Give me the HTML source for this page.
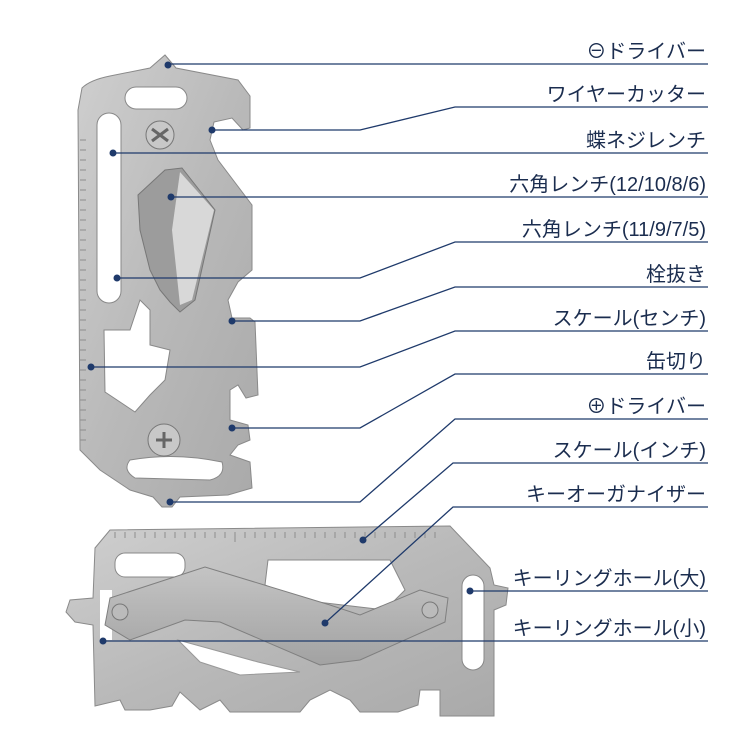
<!DOCTYPE html>
<html><head><meta charset="utf-8"><style>
html,body{margin:0;padding:0;background:#fff;}
svg{display:block}
text{font-family:"Liberation Sans","Noto Sans CJK JP",sans-serif;fill:#1b2d4f;font-size:20px}
</style></head><body>
<svg width="750" height="750" viewBox="0 0 750 750" xmlns="http://www.w3.org/2000/svg">
<defs>
<linearGradient id="m" x1="0" y1="0" x2="1" y2="1">
<stop offset="0" stop-color="#cfcfcf"/><stop offset="0.5" stop-color="#b9b9b9"/><stop offset="1" stop-color="#a9a9a9"/>
</linearGradient>
<linearGradient id="a" x1="0" y1="0" x2="0" y2="1">
<stop offset="0" stop-color="#c4c4c4"/><stop offset="1" stop-color="#a2a2a2"/>
</linearGradient>
</defs>

<!-- Top tool -->
<path d="M165,55 L176,68 L238,80 L250,96 L250,128 L243,130 L232,118 L214,122 L210,140 L218,160 L252,205 L252,270 L238,282 L228,300 L232,318 L250,318 L255,322 L258,395 L246,398 L238,385 L230,390 L230,420 L248,425 L250,440 L238,445 L230,455 L250,462 L252,488 L228,495 L180,497 L172,507 L162,507 L153,497 L130,490 L100,470 L80,450 L78,110 L82,88 Q90,80 110,76 L150,68 Z" fill="url(#m)" stroke="#8a8a8a" stroke-width="1"/>
<!-- ruler ticks left -->
<g stroke="#8d8d8d" stroke-width="1">
<line x1="80" y1="140" x2="86" y2="140"/><line x1="80" y1="150" x2="86" y2="150"/><line x1="80" y1="160" x2="86" y2="160"/><line x1="80" y1="170" x2="86" y2="170"/><line x1="80" y1="180" x2="86" y2="180"/><line x1="80" y1="190" x2="86" y2="190"/><line x1="80" y1="200" x2="86" y2="200"/><line x1="80" y1="210" x2="86" y2="210"/><line x1="80" y1="220" x2="86" y2="220"/><line x1="80" y1="230" x2="86" y2="230"/><line x1="80" y1="240" x2="86" y2="240"/><line x1="80" y1="250" x2="86" y2="250"/><line x1="80" y1="260" x2="86" y2="260"/><line x1="80" y1="270" x2="86" y2="270"/><line x1="80" y1="280" x2="86" y2="280"/><line x1="80" y1="290" x2="86" y2="290"/><line x1="80" y1="300" x2="86" y2="300"/><line x1="80" y1="310" x2="86" y2="310"/><line x1="80" y1="320" x2="86" y2="320"/><line x1="80" y1="330" x2="86" y2="330"/><line x1="80" y1="340" x2="86" y2="340"/><line x1="80" y1="350" x2="86" y2="350"/><line x1="80" y1="360" x2="86" y2="360"/><line x1="80" y1="370" x2="86" y2="370"/><line x1="80" y1="380" x2="86" y2="380"/><line x1="80" y1="390" x2="86" y2="390"/><line x1="80" y1="400" x2="86" y2="400"/><line x1="80" y1="410" x2="86" y2="410"/><line x1="80" y1="420" x2="86" y2="420"/><line x1="80" y1="430" x2="86" y2="430"/><line x1="80" y1="440" x2="86" y2="440"/>
</g>
<!-- holes -->
<rect x="125" y="87" width="62" height="22" rx="11" fill="#fff" stroke="#888"/>
<rect x="97" y="113" width="24" height="190" rx="12" fill="#fff" stroke="#888"/>
<path d="M165,170 L182,168 L215,210 L195,300 L180,312 L170,302 L160,290 L150,270 L140,230 L138,195 Z" fill="#9c9c9c" stroke="#777"/>
<path d="M180,172 L214,210 L192,300 L180,305 L172,230 Z" fill="#d8d8d8"/>
<path d="M104,330 L130,330 L140,300 L150,310 L150,345 L170,350 L165,380 L150,395 L135,412 L105,392 Z" fill="#fff" stroke="#888"/>
<path d="M130,460 Q175,452 222,462 Q226,476 210,480 L135,478 Q122,470 130,460 Z" fill="#fff" stroke="#888"/>
<circle cx="160" cy="135" r="14" fill="#c8c8c8" stroke="#777"/>
<path d="M152,129 L168,141 M168,129 L152,141" stroke="#666" stroke-width="3"/>
<circle cx="164" cy="440" r="16" fill="#c8c8c8" stroke="#777"/>
<path d="M156,440 L172,440 M164,432 L164,448" stroke="#666" stroke-width="3"/>

<!-- Bottom tool -->
<path d="M110,530 L450,526 L490,568 L494,585 L508,588 L506,605 L494,610 L494,716 L440,716 L440,690 L420,690 L418,705 L398,712 L360,712 L350,700 L330,690 L310,700 L300,712 L230,712 L220,700 L200,710 L180,692 L172,706 L150,710 L125,710 L120,700 L95,706 L93,625 L75,622 L66,612 L70,600 L93,598 L95,548 Z" fill="url(#m)" stroke="#8a8a8a"/>
<g stroke="#8d8d8d" stroke-width="1">
<path d="M115,532 v6 M125,532 v6 M135,532 v6 M145,532 v6 M155,532 v6 M165,532 v6 M175,532 v6 M185,532 v6 M195,532 v6 M205,532 v6 M215,532 v6 M225,532 v6 M235,532 v10 M245,532 v6 M255,532 v6 M265,532 v6 M275,532 v6 M285,532 v6 M295,532 v6 M305,532 v6 M315,532 v6 M325,532 v6 M335,532 v6 M345,532 v6 M355,532 v6 M365,532 v10 M375,532 v6 M385,532 v6 M395,532 v6 M405,532 v6 M415,532 v6 M425,532 v6 M435,532 v6"/>
</g>
<rect x="115" y="553" width="70" height="24" rx="10" fill="#fff" stroke="#888"/>
<path d="M268,560 L390,560 L405,590 L385,610 L300,600 L265,585 Z" fill="#fff" stroke="#888"/>
<rect x="462" y="575" width="22" height="95" rx="11" fill="#fff" stroke="#888"/>
<path d="M100,590 L112,590 L112,640 L100,640 Z" fill="#fff"/>
<path d="M178,640 L258,662 L300,672 L240,675 L200,662 Z" fill="#fff" stroke="#999"/>
<!-- key organizer arm -->
<path d="M110,598 L205,567 L330,605 L360,615 L420,590 L448,598 L445,622 L360,660 L320,665 L220,622 L185,620 L130,640 L105,625 Z" fill="url(#a)" stroke="#7f7f7f"/>
<circle cx="120" cy="612" r="8" fill="#bbb" stroke="#777"/>
<circle cx="430" cy="610" r="8" fill="#bbb" stroke="#777"/>

<!-- leader lines -->
<g stroke="#1f3a6b" stroke-width="1.3" fill="none">
<polyline points="168,64 708,64"/>
<polyline points="212,130 360,130 455,107 708,107"/>
<polyline points="113,153 708,153"/>
<polyline points="171,197 708,197"/>
<polyline points="117,278 360,278 455,242 708,242"/>
<polyline points="232,321 360,321 455,287 708,287"/>
<polyline points="91,367 360,367 455,331 708,331"/>
<polyline points="232,428 360,428 455,374 708,374"/>
<polyline points="170,502 360,502 455,419 708,419"/>
<polyline points="363,540 453,463 708,463"/>
<polyline points="325,623 453,507 708,507"/>
<polyline points="470,591 708,591"/>
<polyline points="103,641 708,641"/>
</g>
<g fill="#1f3a6b">
<circle cx="168" cy="65" r="3.5"/><circle cx="212" cy="130" r="3.5"/><circle cx="113" cy="153" r="3.5"/>
<circle cx="171" cy="197" r="3.5"/><circle cx="117" cy="278" r="3.5"/><circle cx="232" cy="321" r="3.5"/>
<circle cx="91" cy="367" r="3.5"/><circle cx="232" cy="428" r="3.5"/><circle cx="170" cy="502" r="3.5"/>
<circle cx="363" cy="540" r="3.5"/><circle cx="325" cy="623" r="3.5"/><circle cx="470" cy="591" r="3.5"/>
<circle cx="103" cy="641" r="3.5"/>
</g>

<g text-anchor="end">
<text x="706" y="58">⊖ドライバー</text>
<text x="706" y="101">ワイヤーカッター</text>
<text x="706" y="147">蝶ネジレンチ</text>
<text x="706" y="191">六角レンチ(12/10/8/6)</text>
<text x="706" y="236">六角レンチ(11/9/7/5)</text>
<text x="706" y="281">栓抜き</text>
<text x="706" y="325">スケール(センチ)</text>
<text x="706" y="368">缶切り</text>
<text x="706" y="413">⊕ドライバー</text>
<text x="706" y="457">スケール(インチ)</text>
<text x="706" y="501">キーオーガナイザー</text>
<text x="706" y="585">キーリングホール(大)</text>
<text x="706" y="635">キーリングホール(小)</text>
</g>
</svg>
</body></html>
